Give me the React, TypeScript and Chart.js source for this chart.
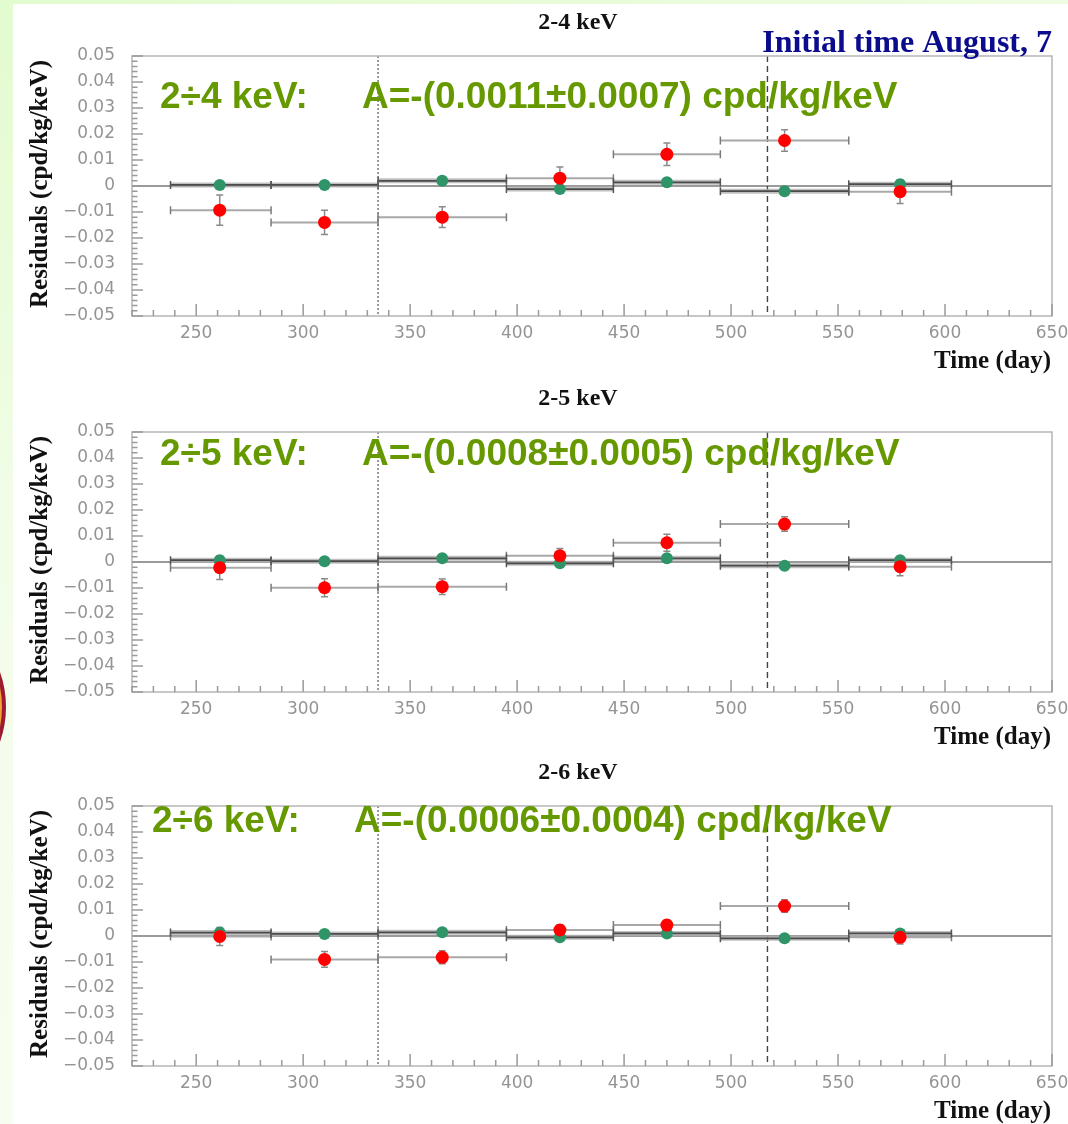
import React, { useEffect, useRef } from 'react';
import { Chart, registerables } from 'chart.js';

Chart.register(...registerables);

// ---- data ----
const binStart = [238, 285, 335, 395, 445, 495, 555];
const binEnd = [285, 335, 395, 445, 495, 555, 603];
const days = [261, 310, 365, 420, 470, 525, 579];

const red24 = [-0.0093, -0.014, -0.012, 0.003, 0.0122, 0.0175, -0.0022];
const red24Err = [0.0058, 0.0047, 0.004, 0.0043, 0.0043, 0.0041, 0.0045];
const green24 = [0.0004, 0.0004, 0.002, -0.0012, 0.0014, -0.002, 0.0007];
const green24Err = [0.0004, 0.0004, 0.0004, 0.0004, 0.0004, 0.0004, 0.0004];

const red25 = [-0.0022, -0.0099, -0.0095, 0.0024, 0.0074, 0.0146, -0.0018];
const red25Err = [0.0045, 0.0035, 0.003, 0.0028, 0.0033, 0.0028, 0.0035];
const green25 = [0.0007, 0.0003, 0.0014, -0.0005, 0.0014, -0.0014, 0.0007];
const green25Err = [0.0003, 0.0003, 0.0003, 0.0003, 0.0003, 0.0003, 0.0003];

const red26 = [-0.0002, -0.009, -0.0082, 0.0023, 0.0042, 0.0115, -0.0005];
const red26Err = [0.0035, 0.003, 0.0025, 0.002, 0.002, 0.0024, 0.0026];
const green26 = [0.0013, 0.0008, 0.0014, -0.0005, 0.001, -0.0009, 0.001];
const green26Err = [0.0003, 0.0003, 0.0003, 0.0003, 0.0003, 0.0003, 0.0003];

const xTicks = [250, 300, 350, 400, 450, 500, 550, 600, 650];
const yTicks = [0.05, 0.04, 0.03, 0.02, 0.01, 0, -0.01, -0.02, -0.03, -0.04, -0.05];
const xMin = 220;
const xMax = 650;
const dottedLineDay = 335;
const dashedLineDay = 517;

const panelTitles = ['2-4 keV', '2-5 keV', '2-6 keV'];
const bandLabels = ['2÷4 keV:', '2÷5 keV:', '2÷6 keV:'];
const amplitudeLabels = [
  'A=-(0.0011±0.0007) cpd/kg/keV',
  'A=-(0.0008±0.0005) cpd/kg/keV',
  'A=-(0.0006±0.0004) cpd/kg/keV',
];

type PanelDef = {
  title: string;
  band: string;
  amp: string;
  red: number[];
  redErr: number[];
  green: number[];
  greenErr: number[];
  top: number;
  textX: number;
  ampX: number;
  textY: number;
  showInitial: boolean;
};

const panels: PanelDef[] = [
  { title: panelTitles[0], band: bandLabels[0], amp: amplitudeLabels[0], red: red24, redErr: red24Err, green: green24, greenErr: green24Err, top: 0, textX: 160, ampX: 362, textY: 108, showInitial: true },
  { title: panelTitles[1], band: bandLabels[1], amp: amplitudeLabels[1], red: red25, redErr: red25Err, green: green25, greenErr: green25Err, top: 376, textX: 160, ampX: 362, textY: 89, showInitial: false },
  { title: panelTitles[2], band: bandLabels[2], amp: amplitudeLabels[2], red: red26, redErr: red26Err, green: green26, greenErr: green26Err, top: 750, textX: 152, ampX: 354, textY: 82, showInitial: false },
];

const SERIF = '"Liberation Serif", "Times New Roman", Times, serif';
const SANS = '"Liberation Sans", Arial, Helvetica, sans-serif';
const TICKFONT = '"DejaVu Sans", Verdana, sans-serif';

function fmtY(v: number): string {
  if (Math.abs(v) < 1e-9) return '0';
  return (v < 0 ? '\u2212' : '') + Math.abs(v).toFixed(2);
}

function makePlugin(p: PanelDef) {
  const drawBars = (chart: any, vals: number[], errs: number[], green: boolean) => {
    const ctx = chart.ctx;
    const xs = chart.scales.x;
    const ys = chart.scales.y;
    for (let i = 0; i < days.length; i++) {
      const py = ys.getPixelForValue(vals[i]);
      const x0 = xs.getPixelForValue(binStart[i]);
      const x1 = xs.getPixelForValue(binEnd[i]);
      const px = xs.getPixelForValue(days[i]);
      if (green) {
        ctx.strokeStyle = 'rgba(175,175,175,0.8)';
        ctx.lineWidth = 5;
        ctx.beginPath();
        ctx.moveTo(x0, py);
        ctx.lineTo(x1, py);
        ctx.stroke();
        ctx.strokeStyle = '#4a4a4a';
        ctx.lineWidth = 1.8;
      } else {
        ctx.strokeStyle = '#a8a8a8';
        ctx.lineWidth = 2;
      }
      ctx.beginPath();
      ctx.moveTo(x0, py);
      ctx.lineTo(x1, py);
      ctx.stroke();
      // end caps
      ctx.strokeStyle = green ? '#555' : '#7a7a7a';
      ctx.lineWidth = 1.5;
      ctx.beginPath();
      ctx.moveTo(x0, py - 4);
      ctx.lineTo(x0, py + 4);
      ctx.moveTo(x1, py - 4);
      ctx.lineTo(x1, py + 4);
      ctx.stroke();
      // vertical error
      const yt = ys.getPixelForValue(vals[i] + errs[i]);
      const yb = ys.getPixelForValue(vals[i] - errs[i]);
      ctx.strokeStyle = '#8a8a8a';
      ctx.lineWidth = 1.5;
      ctx.beginPath();
      ctx.moveTo(px, yt);
      ctx.lineTo(px, yb);
      ctx.moveTo(px - 3.5, yt);
      ctx.lineTo(px + 3.5, yt);
      ctx.moveTo(px - 3.5, yb);
      ctx.lineTo(px + 3.5, yb);
      ctx.stroke();
    }
  };

  return {
    id: 'residualDecor',
    beforeDatasetsDraw(chart: any) {
      const ctx = chart.ctx;
      const { left, right, top, bottom } = chart.chartArea;
      const xs = chart.scales.x;
      const ys = chart.scales.y;
      ctx.save();
      ctx.beginPath();
      ctx.rect(left, top, right - left, bottom - top);
      ctx.clip();
      // zero line
      const y0 = ys.getPixelForValue(0);
      ctx.strokeStyle = '#9a9a9a';
      ctx.lineWidth = 2;
      ctx.beginPath();
      ctx.moveTo(left, y0);
      ctx.lineTo(right, y0);
      ctx.stroke();
      // vertical reference lines
      const xd = xs.getPixelForValue(dottedLineDay);
      ctx.strokeStyle = '#333';
      ctx.lineWidth = 1;
      ctx.setLineDash([2, 2]);
      ctx.beginPath();
      ctx.moveTo(xd, top);
      ctx.lineTo(xd, bottom);
      ctx.stroke();
      const xe = xs.getPixelForValue(dashedLineDay);
      ctx.strokeStyle = '#444';
      ctx.lineWidth = 1.4;
      ctx.setLineDash([6, 4]);
      ctx.beginPath();
      ctx.moveTo(xe, top);
      ctx.lineTo(xe, bottom);
      ctx.stroke();
      ctx.setLineDash([]);
      drawBars(chart, p.red, p.redErr, false);
      drawBars(chart, p.green, p.greenErr, true);
      ctx.restore();
    },
    afterDraw(chart: any) {
      const ctx = chart.ctx;
      const { left, right, top, bottom } = chart.chartArea;
      const xs = chart.scales.x;
      const ys = chart.scales.y;
      ctx.save();
      // frame
      ctx.strokeStyle = '#b5b5b5';
      ctx.lineWidth = 1.5;
      ctx.strokeRect(left, top, right - left, bottom - top);
      // x ticks (inside)
      ctx.strokeStyle = '#9a9a9a';
      ctx.lineWidth = 1.5;
      const xMajor = xTicks[1] - xTicks[0];
      const xMinor = xMajor / 5;
      const startK = Math.ceil((xMin - xTicks[0]) / xMinor);
      const endK = Math.floor((xMax - xTicks[0]) / xMinor);
      ctx.beginPath();
      for (let k = startK; k <= endK; k++) {
        const v = xTicks[0] + k * xMinor;
        const px = xs.getPixelForValue(v);
        const len = k % 5 === 0 ? 12 : 6;
        ctx.moveTo(px, bottom);
        ctx.lineTo(px, bottom - len);
      }
      ctx.stroke();
      // y ticks (inside)
      const yMajor = yTicks[0] - yTicks[1];
      const yMinor = yMajor / 5;
      const yMin = yTicks[yTicks.length - 1];
      const n = Math.round((yTicks[0] - yMin) / yMinor);
      ctx.beginPath();
      for (let k = 0; k <= n; k++) {
        const v = yMin + k * yMinor;
        const py = ys.getPixelForValue(v);
        const len = k % 5 === 0 ? 11 : 5.5;
        ctx.moveTo(left, py);
        ctx.lineTo(left + len, py);
      }
      ctx.stroke();

      // texts
      ctx.fillStyle = '#111';
      ctx.textBaseline = 'alphabetic';
      ctx.font = `bold 24px ${SERIF}`;
      ctx.textAlign = 'center';
      ctx.fillText(p.title, 578, 29);

      ctx.font = `bold 25px ${SERIF}`;
      ctx.textAlign = 'right';
      ctx.fillText('Time (day)', 1051, 368);

      ctx.save();
      ctx.translate(47, (top + bottom) / 2 - 2);
      ctx.rotate(-Math.PI / 2);
      ctx.textAlign = 'center';
      ctx.fillText('Residuals (cpd/kg/keV)', 0, 0);
      ctx.restore();

      if (p.showInitial) {
        ctx.fillStyle = '#0b0b8e';
        ctx.font = `bold 32px ${SERIF}`;
        ctx.textAlign = 'right';
        ctx.fillText('Initial time August, 7', 1052, 52);
      }

      ctx.fillStyle = '#669900';
      ctx.font = `bold 37px ${SANS}`;
      ctx.textAlign = 'left';
      ctx.fillText(p.band, p.textX, p.textY);
      ctx.fillText(p.amp, p.ampX, p.textY);
      ctx.restore();
    },
  };
}

function Panel({ def }: { def: PanelDef }) {
  const ref = useRef<HTMLCanvasElement | null>(null);
  useEffect(() => {
    if (!ref.current) return;
    const chart = new Chart(ref.current, {
      type: 'scatter',
      data: {
        datasets: [
          {
            label: 'red',
            data: days.map((d, i) => ({ x: d, y: def.red[i] })),
            backgroundColor: '#ff0000',
            borderColor: '#ff0000',
            borderWidth: 0,
            pointRadius: 6.5,
          },
          {
            label: 'green',
            data: days.map((d, i) => ({ x: d, y: def.green[i] })),
            backgroundColor: '#2f9468',
            borderColor: '#2f9468',
            borderWidth: 0,
            pointRadius: 6,
          },
        ],
      },
      options: {
        responsive: false,
        animation: false,
        devicePixelRatio: 1,
        layout: { padding: { top: 56, right: 16, left: 0, bottom: 0 } },
        plugins: {
          legend: { display: false },
          tooltip: { enabled: false },
          title: { display: false },
        },
        scales: {
          x: {
            type: 'linear',
            min: xMin,
            max: xMax,
            afterBuildTicks: (s: any) => {
              s.ticks = xTicks.map((v) => ({ value: v }));
            },
            afterFit: (s: any) => {
              s.height = 58;
              s.paddingLeft = 0;
              s.paddingRight = 0;
            },
            grid: { display: false, drawTicks: false },
            border: { display: false },
            ticks: {
              padding: 7,
              color: '#949494',
              font: { family: TICKFONT, size: 17 },
              maxRotation: 0,
              autoSkip: false,
              callback: (v: any) => String(v),
            },
          },
          y: {
            type: 'linear',
            min: yTicks[yTicks.length - 1],
            max: yTicks[0],
            afterBuildTicks: (s: any) => {
              s.ticks = yTicks.map((v) => ({ value: v }));
            },
            afterFit: (s: any) => {
              s.width = 132;
              s.paddingTop = 0;
              s.paddingBottom = 0;
            },
            grid: { display: false, drawTicks: false },
            border: { display: false },
            ticks: {
              padding: 17,
              color: '#949494',
              font: { family: TICKFONT, size: 17 },
              autoSkip: false,
              callback: (v: any) => fmtY(Number(v)),
            },
          },
        },
      } as any,
      plugins: [makePlugin(def)],
    });
    return () => chart.destroy();
  }, [def]);
  return (
    <canvas
      ref={ref}
      width={1068}
      height={374}
      style={{ position: 'absolute', left: 0, top: def.top, width: 1068, height: 374 }}
    />
  );
}

export default function App() {
  return (
    <div
      style={{
        position: 'fixed',
        left: 0,
        top: 0,
        width: 1068,
        height: 1124,
        overflow: 'hidden',
        background: 'linear-gradient(160deg, #e2fbcf 0%, #f2fde8 35%, #fbfef6 100%)',
      }}
    >
      <div style={{ position: 'absolute', left: 13, top: 4, right: 0, bottom: 0, background: '#ffffff' }} />
      <div
        style={{
          position: 'absolute',
          left: -99 - 105,
          top: 707 - 105,
          width: 210,
          height: 210,
          borderRadius: '50%',
          boxSizing: 'border-box',
          border: '4px solid #9b1b30',
          background: '#f2a43a',
        }}
      />
      {panels.map((p, i) => (
        <Panel key={i} def={p} />
      ))}
    </div>
  );
}
